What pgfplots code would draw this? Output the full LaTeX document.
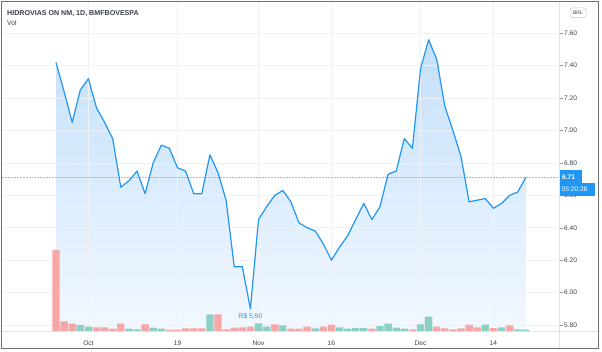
\documentclass[border=0pt]{standalone}
\usepackage{pgfplots}
\pgfplotsset{compat=1.18}
\usepackage{pgfplotstable}
\usepackage{fontspec}
\setmainfont{Liberation Sans}
\definecolor{tvblue}{RGB}{33,150,243}
\definecolor{gridc}{RGB}{238,241,248}
\definecolor{volred}{RGB}{247,166,166}
\definecolor{volgreen}{RGB}{140,208,196}
\definecolor{txt}{RGB}{60,64,76}
\definecolor{fillTop}{RGB}{196,224,250}
\definecolor{fillBot}{RGB}{242,248,255}
\definecolor{framec}{RGB}{110,110,110}
\definecolor{sepc}{RGB}{224,227,235}

\pgfplotstableread{
i p
0 7.42
1 7.24
2 7.05
3 7.25
4 7.32
5 7.14
6 7.05
7 6.95
8 6.65
9 6.69
10 6.75
11 6.61
12 6.80
13 6.91
14 6.89
15 6.77
16 6.75
17 6.61
18 6.61
19 6.85
20 6.74
21 6.57
22 6.16
23 6.16
24 5.90
25 6.45
26 6.53
27 6.60
28 6.63
29 6.56
30 6.43
31 6.40
32 6.38
33 6.30
34 6.20
35 6.28
36 6.35
37 6.45
38 6.55
39 6.45
40 6.53
41 6.73
42 6.75
43 6.95
44 6.89
45 7.38
46 7.56
47 7.44
48 7.15
49 7.00
50 6.84
51 6.56
52 6.57
53 6.58
54 6.52
55 6.55
56 6.60
57 6.62
58 6.71
}\price

\pgfplotstableread{
i p
0 5.763
0 7.42
1 7.24
2 7.05
3 7.25
4 7.32
5 7.14
6 7.05
7 6.95
8 6.65
9 6.69
10 6.75
11 6.61
12 6.80
13 6.91
14 6.89
15 6.77
16 6.75
17 6.61
18 6.61
19 6.85
20 6.74
21 6.57
22 6.16
23 6.16
24 5.90
25 6.45
26 6.53
27 6.60
28 6.63
29 6.56
30 6.43
31 6.40
32 6.38
33 6.30
34 6.20
35 6.28
36 6.35
37 6.45
38 6.55
39 6.45
40 6.53
41 6.73
42 6.75
43 6.95
44 6.89
45 7.38
46 7.56
47 7.44
48 7.15
49 7.00
50 6.84
51 6.56
52 6.57
53 6.58
54 6.52
55 6.55
56 6.60
57 6.62
58 6.71
58 5.763
}\pricearea

\pgfplotstableread{
i v
0 81
1 9.7
2 7.3
5 3.7
6 3.7
7 2.3
8 7.3
11 6.7
14 1.3
15 1.3
16 2.7
17 2.7
18 2.7
20 16.7
21 1.7
22 3.3
23 3.7
24 4.3
27 6.7
29 2.3
30 2.3
31 4.3
33 4.3
34 6.3
39 2.3
44 1.7
47 4.3
48 2.7
49 1.7
50 2.7
51 6.3
52 3.7
54 3.0
56 5.7
}\volred

\pgfplotstableread{
i v
3 6.0
4 4.3
9 2.3
10 1.7
12 3.3
13 2.3
19 16.7
25 7.7
26 4.3
28 5.7
32 2.7
35 3.7
36 2.3
37 3.0
38 3.0
40 5.0
41 7.3
42 3.3
43 2.3
45 6.7
46 14.3
53 6.3
55 3.7
57 1.7
58 1.3
}\volgreen

\pgfplotsset{
  tvbase/.style={
    scale only axis, width=557.5pt, height=329pt,
    at={(2pt,20pt)}, anchor=south west,
    xmin=-6.667, xmax=62.16,
    axis line style={draw=none},
  }
}

\begin{document}
\begin{tikzpicture}
\path[use as bounding box, fill=white] (0,0) rectangle (602pt,351pt);

% axis A: grid, ticks and area fill
\begin{axis}[tvbase, axis on top,
  ymin=5.763, ymax=7.793,
  grid=major, grid style={color=gridc, line width=0.6pt},
  xtick={4,15,25,34,45,54},
  xticklabels={Oct,19,Nov,16,Dec,14},
  ytick={5.8,6.0,6.2,6.4,6.6,6.8,7.0,7.2,7.4,7.6},
  ytick pos=right, yticklabel pos=right,
  tick align=outside,
  major tick length=3.5pt,
  xtick style={draw=none},
  ytick style={draw=framec!70, line width=0.5pt},
  xticklabel style={anchor=base, inner sep=0pt, yshift=-11pt,
     font=\fontsize{6.6}{8}\selectfont, text=txt},
  yticklabel style={anchor=west, inner sep=0pt, xshift=1pt,
     font=\fontsize{6.6}{8}\selectfont, text=txt,
     /pgf/number format/.cd, fixed, fixed zerofill, precision=2, assume math mode=true},
]
\addplot[draw=none, top color=fillTop, bottom color=fillBot] table[x=i,y=p]{\pricearea};
\end{axis}

% axis B: volume bars
\begin{axis}[tvbase, ymin=0, ymax=329, hide axis]
\addplot[ybar, bar width=7.3pt, bar shift=0pt, fill=volred, draw=none] table[x=i,y=v]{\volred};
\addplot[ybar, bar width=7.3pt, bar shift=0pt, fill=volgreen, draw=none] table[x=i,y=v]{\volgreen};
\end{axis}

% axis C: price line
\begin{axis}[tvbase, ymin=5.763, ymax=7.793, hide axis, clip=false]
\addplot[tvblue!55, densely dotted, line width=0.5pt] coordinates {(-6.667,6.71) (62.16,6.71)};
\addplot[tvblue, line width=1.2pt, mark=none, line join=round] table[x=i,y=p]{\price};
\node[text=tvblue, font=\fontsize{6.8}{8}\selectfont, inner sep=0pt] at (axis cs:24,5.855) {R\$ 5,90};
\end{axis}

% separators and frame
\draw[sepc, line width=0.6pt] (1pt,20pt) -- (598pt,20pt);
\draw[sepc, line width=0.6pt] (559.5pt,3pt) -- (559.5pt,350pt);
\draw[framec, line width=0.8pt] (1pt,3pt) rectangle (598pt,350pt);

% title
\node[anchor=base west, inner sep=0pt, text=txt, font=\fontsize{7.1}{8}\selectfont\bfseries] at (7pt,335.3pt) {HIDROVIAS ON NM, 1D, BMFBOVESPA};
\node[anchor=base west, inner sep=0pt, text=txt, font=\fontsize{6.8}{8}\selectfont] at (7pt,325pt) {Vol};

% BRL button
\draw[rounded corners=1.5pt, draw=gray!45, fill=white, line width=0.5pt] (570pt,333.5pt) rectangle (586pt,343pt);
\node[inner sep=0pt, text=txt, font=\fontsize{5}{6}\selectfont] at (578pt,338.3pt) {BRL};

% last price labels
\fill[tvblue] (559.5pt,168pt) rectangle (582pt,180.5pt);
\node[anchor=west, inner sep=0pt, text=white, font=\fontsize{6.6}{8}\selectfont\bfseries] at (562pt,174.25pt) {6.71};
\fill[tvblue] (559.5pt,155pt) rectangle (595pt,168pt);
\node[anchor=west, inner sep=0pt, text=white, font=\fontsize{6.6}{8}\selectfont] at (561.5pt,161.5pt) {05:20:28};
\end{tikzpicture}
\end{document}
